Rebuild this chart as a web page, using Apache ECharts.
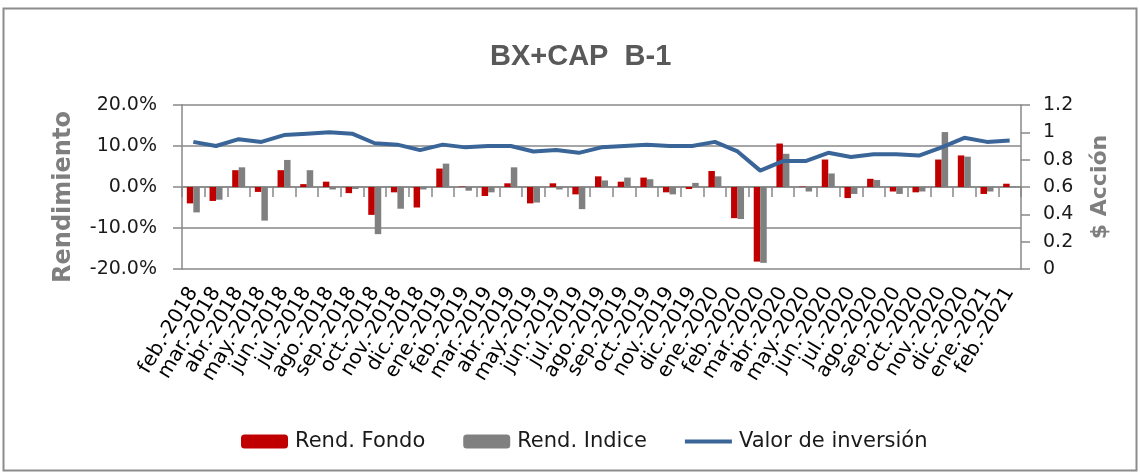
<!DOCTYPE html>
<html><head><meta charset="utf-8">
<script src="https://cdn.jsdelivr.net/npm/echarts@6/dist/echarts.min.js"></script>
<style>html,body{margin:0;padding:0;background:#fff}#c{width:1140px;height:473px}</style>
</head><body><div id="c"></div>
<script>
const categories = ["feb.-2018","mar.-2018","abr.-2018","may.-2018","jun.-2018","jul.-2018","ago.-2018","sep.-2018","oct.-2018","nov.-2018","dic.-2018",
"ene.-2019","feb.-2019","mar.-2019","abr.-2019","may.-2019","jun.-2019","jul.-2019","ago.-2019","sep.-2019","oct.-2019","nov.-2019","dic.-2019",
"ene.-2020","feb.-2020","mar.-2020","abr.-2020","may.-2020","jun.-2020","jul.-2020","ago.-2020","sep.-2020","oct.-2020","nov.-2020","dic.-2020",
"ene.-2021","feb.-2021"];
const rendFondo = [-4.0,-3.4,4.1,-1.2,4.1,0.7,1.3,-1.5,-6.8,-1.3,-5.0,
 4.5,0.1,-2.2,0.9,-4.0,0.9,-1.8,2.6,1.3,2.3,-1.3,-0.5,
 3.9,-7.6,-18.2,10.6,0.1,6.7,-2.7,2.0,-1.1,-1.3,6.7,7.7,
 -1.7,0.8];
const rendIndice = [-6.2,-3.1,4.8,-8.2,6.6,4.1,-0.6,-0.5,-11.5,-5.3,-0.6,
 5.7,-0.9,-1.3,4.8,-3.8,-0.6,-5.4,1.6,2.3,1.9,-1.8,1.0,
 2.6,-7.8,-18.5,8.1,-1.1,3.3,-1.7,1.7,-1.7,-1.1,13.4,7.4,
 -1.1,0.1];
const valorInversion = [0.93,0.90,0.95,0.93,0.98,0.99,1.00,0.99,0.92,0.91,0.87,
 0.91,0.89,0.90,0.90,0.86,0.87,0.85,0.89,0.90,0.91,0.90,0.90,
 0.93,0.86,0.72,0.79,0.79,0.85,0.82,0.84,0.84,0.83,0.89,0.96,
 0.93,0.94];
const leftTicks = {min:-20, max:20, interval:10};
const rightTicks = {min:0, max:1.2, interval:0.2};

const FONT = 'DejaVu Sans';
const axisGray = '#888888';
const chart = echarts.init(document.getElementById('c'));
chart.setOption({
  animation:false,
  backgroundColor:'#fff',
  textStyle:{fontFamily:FONT},
  graphic:[{type:'rect',shape:{x:3.5,y:8.5,width:1133,height:462},style:{fill:'none',stroke:'#8c8c8c',lineWidth:2}}],
  title:{text:'BX+CAP  B-1',left:485,top:37,
    textStyle:{fontFamily:'Liberation Sans',fontSize:29,fontWeight:'bold',color:'#595959'}},
  legend:{top:426,left:236,itemWidth:47,itemHeight:14,itemGap:38,symbolKeepAspect:true,
    textStyle:{fontFamily:FONT,fontSize:21,color:'#1a1a1a',padding:[0,0,0,2]},
    data:[{name:'Rend. Fondo'},{name:'Rend. Indice'},
      {name:'Valor de inversión',icon:'path://M0,0 L47,0 L47,4 L0,4 Z',itemStyle:{color:'#3A6598'}}]},
  grid:{left:182,right:119,top:105,bottom:204,containLabel:false},
  xAxis:[{
    type:'category',data:categories,position:'bottom',
    axisLine:{show:false},axisTick:{show:false},
    axisLabel:{rotate:59,interval:0,margin:20,fontSize:20,color:'#000',fontFamily:FONT}
  },{
    type:'category',data:categories,position:'bottom',
    axisLine:{show:true,onZero:true,onZeroAxisIndex:0,lineStyle:{color:axisGray,width:1.5}},
    axisTick:{show:true,length:10,interval:0,lineStyle:{color:axisGray,width:1.5}},
    axisLabel:{show:false},splitLine:{show:false}
  }],
  yAxis:[{
    type:'value',min:leftTicks.min,max:leftTicks.max,interval:leftTicks.interval,
    name:'Rendimiento',nameLocation:'middle',nameGap:106,nameRotate:90,
    nameTextStyle:{fontFamily:FONT,fontSize:24,fontWeight:'bold',color:'#7f7f7f',padding:[0,20,0,0]},
    axisLine:{show:true,lineStyle:{color:axisGray,width:1.5}},
    axisTick:{show:true,length:9,lineStyle:{color:axisGray,width:1.5}},
    splitLine:{show:true,lineStyle:{color:axisGray,width:1.5}},
    axisLabel:{margin:25,fontSize:19,color:'#1a1a1a',fontFamily:FONT,formatter:v=>v.toFixed(1)+'%'}
  },{
    type:'value',min:rightTicks.min,max:rightTicks.max,interval:rightTicks.interval,position:'right',
    name:'$ Acción',nameLocation:'middle',nameGap:68,nameRotate:90,
    nameTextStyle:{fontFamily:FONT,fontSize:22,fontWeight:'bold',color:'#7f7f7f'},
    axisLine:{show:true,lineStyle:{color:axisGray,width:1.5}},
    axisTick:{show:true,length:9,lineStyle:{color:axisGray,width:1.5}},
    splitLine:{show:false},
    axisLabel:{margin:22,fontSize:19,color:'#1a1a1a',fontFamily:FONT,formatter:v=>String(Math.round(v*10)/10)}
  }],
  series:[
    {name:'Rend. Fondo',type:'bar',data:rendFondo,barWidth:6.5,barGap:'0%',itemStyle:{color:'#C00000'}},
    {name:'Rend. Indice',type:'bar',data:rendIndice,barWidth:6.5,barGap:'0%',itemStyle:{color:'#808080'}},
    {name:'Valor de inversión',type:'line',yAxisIndex:1,data:valorInversion,symbol:'none',
      lineStyle:{color:'#3A6598',width:4},itemStyle:{color:'#3A6598'}}
  ]
});
</script></body></html>
